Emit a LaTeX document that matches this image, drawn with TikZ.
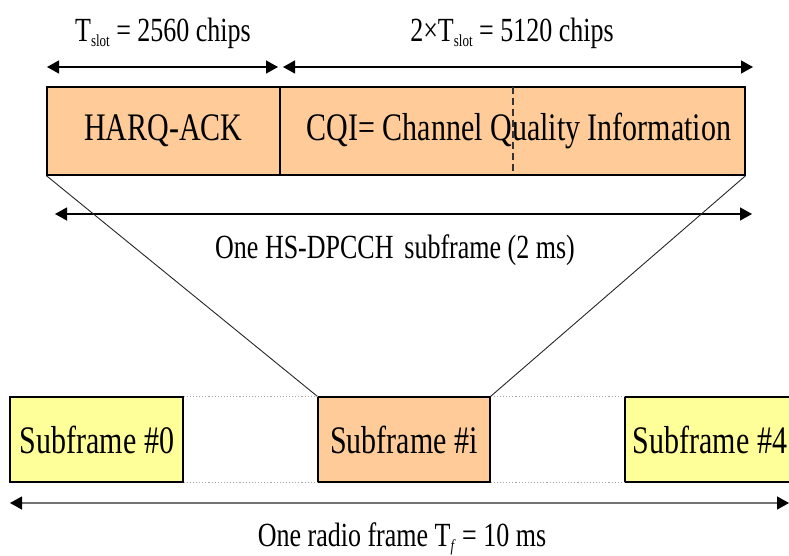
\documentclass[tikz,border=0pt]{standalone}
\usepackage{fontspec}
\usepackage{graphicx}
\setmainfont{Liberation Serif}
\usetikzlibrary{arrows.meta}
\definecolor{peach}{HTML}{FFCC99}
\definecolor{lemon}{HTML}{FFFF99}
\newcommand{\tallx}[1]{\scalebox{1}[1.3]{#1}}
\newcommand{\subx}[1]{\raisebox{-0.35ex}{\fontsize{13}{13}\selectfont #1}}
\begin{document}
\begin{tikzpicture}[x=1pt,y=-1pt,
  boxtext/.style={font=\fontsize{30}{32}\selectfont},
  lbltext/.style={font=\fontsize{26}{28}\selectfont, inner sep=0pt},
  field/.style={draw=black, line width=1.3pt, fill=peach, minimum height=88pt, inner sep=0pt, boxtext},
  sub/.style={draw=black, line width=1.3pt, minimum height=85pt, inner sep=0pt, boxtext},
  dim/.style={line width=1.3pt, {Triangle[length=12pt,width=13pt]}-{Triangle[length=12pt,width=13pt]}},
  gap/.style={draw=gray!70, line width=1.1pt, dotted}]
\useasboundingbox (0,0) rectangle (789,556);
\clip (0,0) rectangle (789,556);

% top dimension arrows
\coordinate (a1) at (47,67);
\coordinate (a2) at (278,67);
\coordinate (a3) at (283,67);
\coordinate (a4) at (753,67);
\draw[dim] (a1) -- (a2);
\draw[dim] (a3) -- (a4);
\node[lbltext] (l1) at (163,33) {\tallx{T\subx{slot} = 2560 chips}};
\node[lbltext] (l2) at (512,33) {\tallx{2×T\subx{slot} = 5120 chips}};

% HS-DPCCH fields
\node[field, minimum width=233pt] (harq) at (163.5,131) {\tallx{HARQ-ACK}};
\node[field, minimum width=465pt] (cqi) at (512.5,131) {};
\node[boxtext] (cqit) at (519,131) {\tallx{CQI= Channel Quality Information}};
\coordinate (d1) at (513,87);
\coordinate (d2) at (513,175);
\draw[line width=1.1pt, dashed, dash pattern=on 7pt off 4pt, black!80] (d1) -- (d2);

% subframe arrow
\coordinate (m1) at (55,214);
\coordinate (m2) at (752,214);
\draw[dim] (m1) -- (m2);
\node[lbltext] (ml) at (395,250) {\tallx{One HS-DPCCH\, subframe (2 ms)}};

% bottom subframes
\node[sub, fill=lemon, minimum width=173pt] (sf0) at (96.5,439.5) {};
\node[boxtext] (sf0t) at (97,439.5) {\tallx{Subframe \#0}};
\node[sub, fill=peach, minimum width=172pt] (sfi) at (404,439.5) {\tallx{Subframe \#i}};
\node[sub, fill=lemon, minimum width=175pt] (sf4) at (712.5,439.5) {};
\node[boxtext] (sf4t) at (710,439.5) {\tallx{Subframe \#4}};

% expansion lines
\draw[line width=0.9pt, black!85] (harq.south west) -- (sfi.north west);
\draw[line width=0.9pt, black!85] (cqi.south east) -- (sfi.north east);

% dotted gaps
\draw[gap] (sf0.north east) -- (sfi.north west);
\draw[gap] (sf0.south east) -- (sfi.south west);
\draw[gap] (sfi.north east) -- (sf4.north west);
\draw[gap] (sfi.south east) -- (sf4.south west);

% radio frame arrow
\coordinate (b1) at (10,503);
\coordinate (b2) at (789,503);
\draw[line width=1.3pt, black!55, {Triangle[length=12pt,width=13pt,black]}-{Triangle[length=12pt,width=13pt,black]}] (b1) -- (b2);
\node[lbltext] (bl) at (402,539) {\tallx{One radio frame T\subx{\textit{f}} = 10 ms}};
\end{tikzpicture}
\end{document}
